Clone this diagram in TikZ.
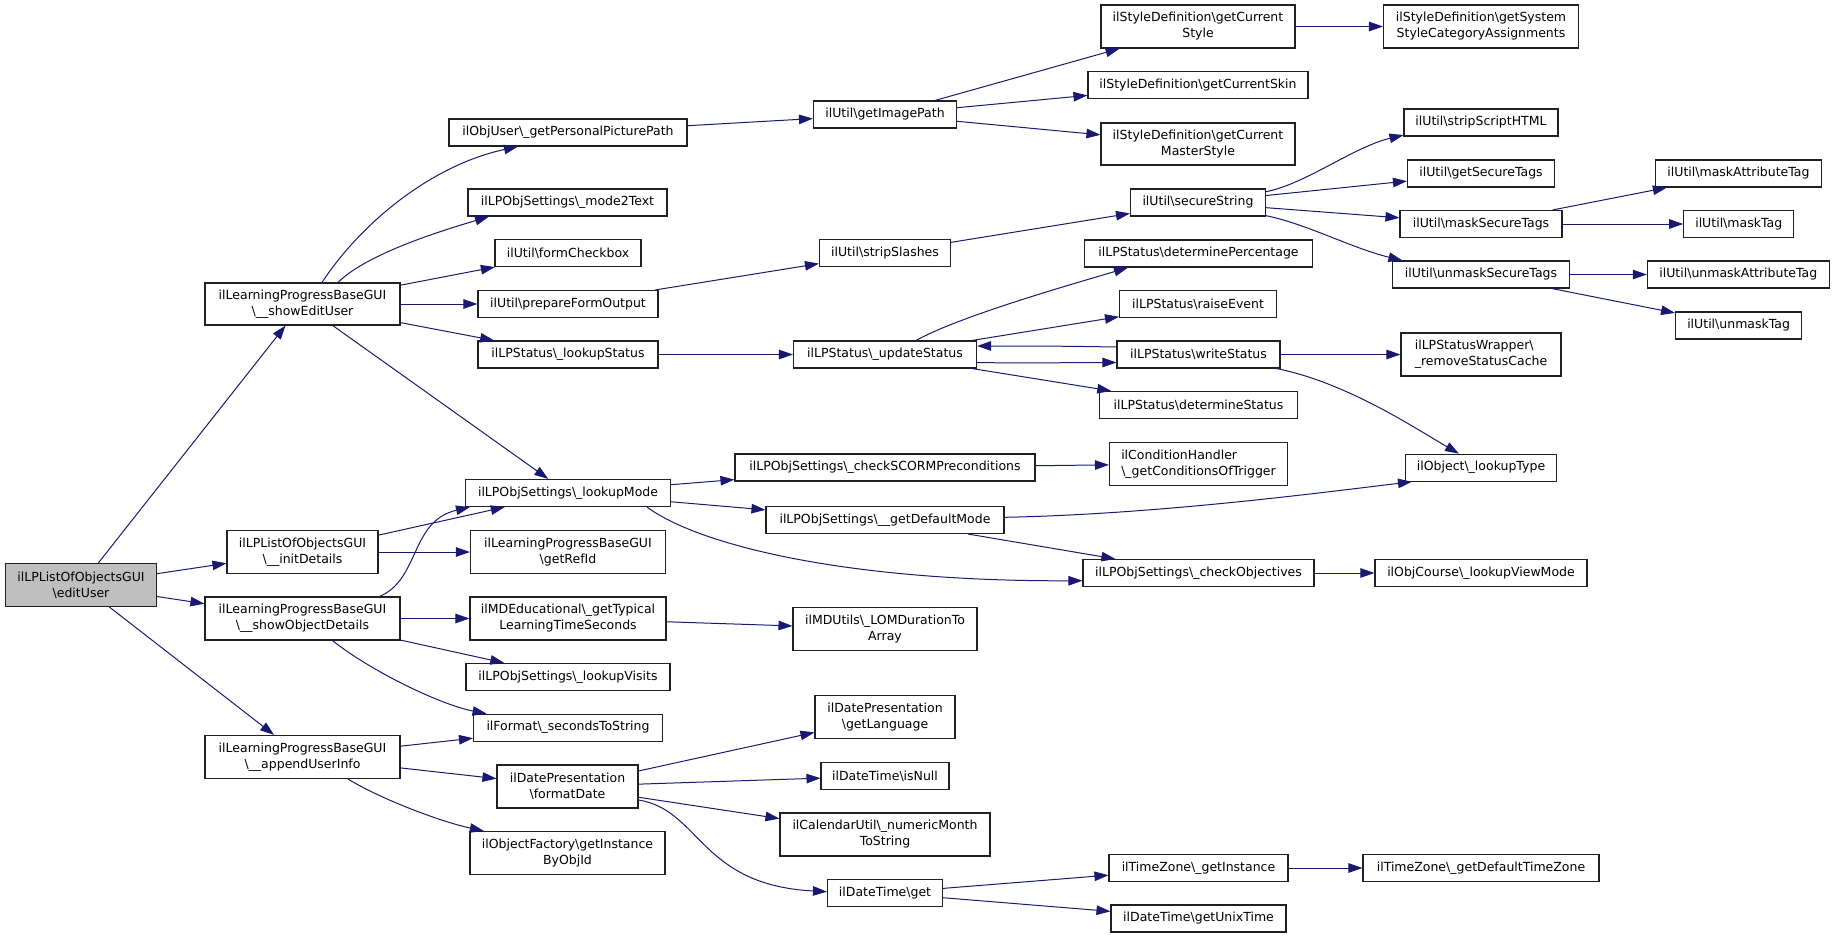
\documentclass[tikz,border=0pt]{standalone}
\usepackage{fontspec}
\setmainfont{DejaVu Sans}
\usetikzlibrary{arrows.meta,calc}
\definecolor{edgecol}{HTML}{191970}
\definecolor{rootfill}{HTML}{BFBFBF}
\definecolor{boxline}{HTML}{202020}
\newcommand{\bsl}{\textbackslash}
\begin{document}
\begin{tikzpicture}[x=0.5pt,y=-0.5pt,
  box/.style={draw=boxline,line width=0.55pt,fill=white,inner sep=0pt,align=center,
    font=\fontsize{6.25}{8}\selectfont},
  wh/.style 2 args={minimum width=#1*0.5pt,minimum height=#2*0.5pt},
  root/.style={fill=rootfill},
  edge/.style={draw=edgecol,line width=0.5pt,-{Triangle[length=7pt,width=4.75pt]}}]
\useasboundingbox (0,0) rectangle (1835,937);
% column 0
\node[box,root,wh={151}{43}] (editUser) at (81,585) {ilLPListOfObjectsGUI\\\bsl editUser};
% column 1
\node[box,wh={195}{42}] (showEditUser) at (302.5,304) {ilLearningProgressBaseGUI\\\bsl\_\_showEditUser};
\node[box,wh={151}{43}] (initDetails) at (302.5,552) {ilLPListOfObjectsGUI\\\bsl\_\_initDetails};
\node[box,wh={195}{43}] (showObjectDetails) at (302.5,618.5) {ilLearningProgressBaseGUI\\\bsl\_\_showObjectDetails};
\node[box,wh={195}{43}] (appendUserInfo) at (302.5,757) {ilLearningProgressBaseGUI\\\bsl\_\_appendUserInfo};
% column 2
\node[box,wh={238}{27}] (getPersonalPicturePath) at (568,132.5) {ilObjUser\bsl\_getPersonalPicturePath};
\node[box,wh={199}{27}] (mode2Text) at (567.5,202.5) {ilLPObjSettings\bsl\_mode2Text};
\node[box,wh={146}{27}] (formCheckbox) at (568,253) {ilUtil\bsl formCheckbox};
\node[box,wh={180}{27}] (prepareFormOutput) at (568,304) {ilUtil\bsl prepareFormOutput};
\node[box,wh={180}{27}] (lookupStatus) at (568,354.5) {ilLPStatus\bsl\_lookupStatus};
\node[box,wh={205}{27}] (lookupMode) at (568,493) {ilLPObjSettings\bsl\_lookupMode};
\node[box,wh={195}{43}] (getRefId) at (568,552) {ilLearningProgressBaseGUI\\\bsl getRefId};
\node[box,wh={196}{43}] (getTypical) at (568,618.5) {ilMDEducational\bsl\_getTypical\\LearningTimeSeconds};
\node[box,wh={204}{27}] (lookupVisits) at (568,677) {ilLPObjSettings\bsl\_lookupVisits};
\node[box,wh={189}{27}] (secondsToString) at (568,727.7) {ilFormat\bsl\_secondsToString};
\node[box,wh={141}{43}] (formatDate) at (567.5,786.5) {ilDatePresentation\\\bsl formatDate};
\node[box,wh={195}{43}] (getInstanceByObjId) at (567.5,853) {ilObjectFactory\bsl getInstance\\ByObjId};
% column 3
\node[box,wh={143}{27}] (getImagePath) at (885,114.5) {ilUtil\bsl getImagePath};
\node[box,wh={131}{27}] (stripSlashes) at (885,253) {ilUtil\bsl stripSlashes};
\node[box,wh={183}{27}] (updateStatus) at (885,354.5) {ilLPStatus\bsl\_updateStatus};
\node[box,wh={300}{27}] (checkSCORM) at (885,467.5) {ilLPObjSettings\bsl\_checkSCORMPreconditions};
\node[box,wh={238}{27}] (getDefaultMode) at (885,520) {ilLPObjSettings\bsl\_\_getDefaultMode};
\node[box,wh={184}{43}] (LOMDuration) at (885,629) {ilMDUtils\bsl\_LOMDurationTo\\Array};
\node[box,wh={140}{43}] (getLanguage) at (885,717) {ilDatePresentation\\\bsl getLanguage};
\node[box,wh={128}{27}] (isNull) at (885,776) {ilDateTime\bsl isNull};
\node[box,wh={210}{43}] (numericMonth) at (885,834.5) {ilCalendarUtil\bsl\_numericMonth\\ToString};
\node[box,wh={115}{27}] (dtget) at (885,893) {ilDateTime\bsl get};
% column 4
\node[box,wh={194}{43}] (getCurrentStyle) at (1198,26.5) {ilStyleDefinition\bsl getCurrent\\Style};
\node[box,wh={220}{27}] (getCurrentSkin) at (1198,85) {ilStyleDefinition\bsl getCurrentSkin};
\node[box,wh={194}{42}] (masterStyle) at (1198,144) {ilStyleDefinition\bsl getCurrent\\MasterStyle};
\node[box,wh={135}{27}] (secureString) at (1198,202.5) {ilUtil\bsl secureString};
\node[box,wh={228}{27}] (determinePercentage) at (1198.5,253.5) {ilLPStatus\bsl determinePercentage};
\node[box,wh={157}{27}] (raiseEvent) at (1198,304) {ilLPStatus\bsl raiseEvent};
\node[box,wh={163}{27}] (writeStatus) at (1198.5,354.5) {ilLPStatus\bsl writeStatus};
\node[box,wh={198}{27}] (determineStatus) at (1198.5,405) {ilLPStatus\bsl determineStatus};
\node[box,wh={178}{43},align=left] (condHandler) at (1198.5,463.8) {ilConditionHandler\\\bsl\_getConditionsOfTrigger};
\node[box,wh={231}{27}] (checkObjectives) at (1198.5,573) {ilLPObjSettings\bsl\_checkObjectives};
\node[box,wh={179}{27}] (tzGetInstance) at (1198.5,868) {ilTimeZone\bsl\_getInstance};
\node[box,wh={175}{27}] (getUnixTime) at (1198.5,918.5) {ilDateTime\bsl getUnixTime};
% column 5
\node[box,wh={195}{43}] (getSystemStyle) at (1481,26.5) {ilStyleDefinition\bsl getSystem\\StyleCategoryAssignments};
\node[box,wh={154}{27}] (stripScriptHTML) at (1481,122.5) {ilUtil\bsl stripScriptHTML};
\node[box,wh={147}{27}] (getSecureTags) at (1481,173.5) {ilUtil\bsl getSecureTags};
\node[box,wh={162}{27}] (maskSecureTags) at (1481,224) {ilUtil\bsl maskSecureTags};
\node[box,wh={177}{27}] (unmaskSecureTags) at (1481,274.5) {ilUtil\bsl unmaskSecureTags};
\node[box,wh={160}{43},align=left] (removeStatusCache) at (1481,354.5) {ilLPStatusWrapper\bsl\\\_removeStatusCache};
\node[box,wh={151}{27}] (lookupType) at (1481,467.7) {ilObject\bsl\_lookupType};
\node[box,wh={212}{27}] (lookupViewMode) at (1481,573) {ilObjCourse\bsl\_lookupViewMode};
\node[box,wh={236}{27}] (getDefaultTimeZone) at (1481,868) {ilTimeZone\bsl\_getDefaultTimeZone};
% column 6
\node[box,wh={166}{27}] (maskAttributeTag) at (1738.5,173.5) {ilUtil\bsl maskAttributeTag};
\node[box,wh={110}{27}] (maskTag) at (1738.7,224) {ilUtil\bsl maskTag};
\node[box,wh={182}{27}] (unmaskAttributeTag) at (1738.3,274.5) {ilUtil\bsl unmaskAttributeTag};
\node[box,wh={126}{27}] (unmaskTag) at (1738.6,325.5) {ilUtil\bsl unmaskTag};

% straight edges
\foreach \a/\b in {editUser/showEditUser, editUser/initDetails, editUser/showObjectDetails, editUser/appendUserInfo,
  showEditUser/formCheckbox, showEditUser/prepareFormOutput, showEditUser/lookupStatus, showEditUser/lookupMode,
  getPersonalPicturePath/getImagePath, getImagePath/getCurrentStyle, getImagePath/getCurrentSkin, getImagePath/masterStyle,
  getCurrentStyle/getSystemStyle, prepareFormOutput/stripSlashes, stripSlashes/secureString,
  secureString/getSecureTags, secureString/maskSecureTags,
  maskSecureTags/maskAttributeTag, maskSecureTags/maskTag,
  unmaskSecureTags/unmaskAttributeTag, unmaskSecureTags/unmaskTag,
  lookupStatus/updateStatus, updateStatus/raiseEvent, updateStatus/determineStatus,
  writeStatus/removeStatusCache, lookupMode/checkSCORM, lookupMode/getDefaultMode,
  checkSCORM/condHandler, getDefaultMode/checkObjectives, checkObjectives/lookupViewMode,
  initDetails/lookupMode, initDetails/getRefId, showObjectDetails/getTypical, showObjectDetails/lookupVisits,
  getTypical/LOMDuration, appendUserInfo/secondsToString, appendUserInfo/formatDate,
  formatDate/getLanguage, formatDate/isNull, formatDate/numericMonth,
  dtget/tzGetInstance, dtget/getUnixTime, tzGetInstance/getDefaultTimeZone}
  \draw[edge] (\a) -- (\b);

% curved edges
\draw[edge] ($(showEditUser.north)+(19.5,0)$) .. controls +(38,-58) and +(-88,19) .. ($(getPersonalPicturePath.south)+(-50,0)$);
\draw[edge] ($(showEditUser.north)+(35.5,0)$) .. controls +(30,-30) and +(-40,12) .. ($(mode2Text.south)+(-78.5,0)$);
\draw[edge] ($(secureString.east)+(0,-10.8)$) .. controls +(40,-8) and +(-50,12) .. ($(stripScriptHTML.south west)+(0,-1.5)$);
\draw[edge] ($(secureString.east)+(0,13.2)$) .. controls +(40,8) and +(-50,-12) .. ($(unmaskSecureTags.north west)+(10.5,0)$);
\draw[edge] ($(updateStatus.north)+(31,0)$) .. controls +(45,-25) and +(-50,15) .. ($(determinePercentage.south west)+(44,0)$);
\draw[edge] ($(writeStatus.west)+(0,-7.5)$) .. controls +(-60,-1) and +(60,0) .. ($(updateStatus.east)+(0,-8.5)$);
\draw[edge] ($(updateStatus.east)+(0,8)$) .. controls +(60,1) and +(-60,0) .. ($(writeStatus.west)+(0,8)$);
\draw[edge] ($(writeStatus.south east)+(-4,0)$) .. controls +(70,14) and +(-45,-26) .. ($(lookupType.north)+(-22,0)$);
\draw[edge] ($(getDefaultMode.east)+(0,-2.7)$) .. controls +(150,-3) and +(-100,12) .. ($(lookupType.south west)+(7,0)$);
\draw[edge] ($(lookupMode.south)+(79,0)$) .. controls +(53,39) and +(-233,1) .. ($(checkObjectives.west)+(0,7.7)$);
\draw[edge] ($(showObjectDetails.north)+(77,0)$) .. controls +(40.5,-17) and +(-60,14) .. ($(lookupMode.south west)+(5,0)$);
\draw[edge] ($(showObjectDetails.south)+(30,0)$) .. controls +(37.5,30) and +(-46.6,-9) .. ($(secondsToString.north west)+(13.6,0)$);
\draw[edge] ($(appendUserInfo.south)+(45.5,0)$) .. controls +(32,19.5) and +(-44.4,-9.5) .. ($(getInstanceByObjId.north west)+(14.4,0)$);
\draw[edge] ($(formatDate.east)+(0,13.5)$) .. controls +(62,10) and +(-127.4,-6.7) .. ($(dtget.west)+(0,-1.3)$);
\end{tikzpicture}
\end{document}
